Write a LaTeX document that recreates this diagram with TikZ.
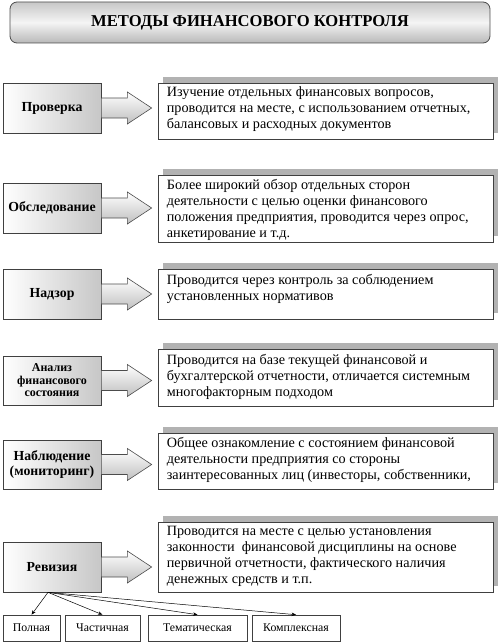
\documentclass[tikz,border=0pt]{standalone}
\usepackage{fontspec}
\setmainfont{Liberation Serif}
\usetikzlibrary{calc,shadows,arrows.meta}

\tikzset{
	heading/.style={draw=black!70, line width=0.8pt, rounded corners=7pt,
		top color=black!22, bottom color=black!28, middle color=black!4,
		minimum width=480pt, minimum height=41pt, inner sep=0pt,
		font=\fontsize{16.6}{18}\selectfont\bfseries},
	method/.style={draw=black!75, line width=0.7pt,
		left color=white, right color=black!22,
		minimum width=98pt, minimum height=50pt, inner sep=1pt, align=center,
		font=\fontsize{13.8}{15.5}\selectfont\bfseries},
	descr/.style={draw=black!75, line width=0.7pt, fill=white,
		minimum width=335pt, inner sep=0pt,
		drop shadow={shadow xshift=5pt, shadow yshift=6pt, fill=black!30, opacity=1}},
	descrtext/.style={anchor=north west, inner sep=0pt, align=left,
		font=\fontsize{14.2}{16}\selectfont},
	arrowfill/.style={draw=black!70, line width=0.6pt,
		top color=white, bottom color=black!25},
	kind/.style={draw=black!75, line width=0.6pt, minimum height=26pt,
		inner sep=1pt, font=\fontsize{11.8}{13}\selectfont},
	branch/.style={line width=0.5pt, -{Stealth[length=4.5pt,width=3.5pt]}}
}

% block arrow from a method box to its description
\newcommand{\blockarrow}[2]{%
	\path[arrowfill] ($(#1.east)+(0,-10)$) -- ++(26,0) -- ++(0,-6)
		-- ($(#1.east -| #2.west)+(-6,0)$) -- ($(#1.east)+(26,16)$)
		-- ++(0,-6) -- ($(#1.east)+(0,10)$) -- cycle;}

\begin{document}
\begin{tikzpicture}[x=1pt,y=-1pt]
	\useasboundingbox (0,0) rectangle (499,642);
	%
	\node[heading] (title) at (250,22.5) {МЕТОДЫ ФИНАНСОВОГО КОНТРОЛЯ};
	%
	\node[method] (l1) at (52,108) {Проверка};
	\node[method] (l2) at (52,208) {Обследование};
	\node[method] (l3) at (52,294) {Надзор};
	\node[method, minimum height=49pt, font=\fontsize{12}{12.5}\selectfont\bfseries] (l4) at (52,380.5) {Анализ\\финансового\\состояния};
	\node[method, minimum height=49pt] (l5) at (52,464.5) {Наблюдение\\(мониторинг)};
	\node[method] (l6) at (52,567) {Ревизия};
	%
	\node[descr, minimum height=56pt] (r1) at (325.5,111) {};
	\node[descr, minimum height=67pt] (r2) at (325.5,208.5) {};
	\node[descr, minimum height=50pt] (r3) at (325.5,294) {};
	\node[descr, minimum height=57pt] (r4) at (325.5,377.5) {};
	\node[descr, minimum height=56pt] (r5) at (325.5,461) {};
	\node[descr, minimum height=70pt] (r6) at (325.5,557) {};
	%
	\node[descrtext] (r1t) at ($(r1.north west)+(9,4)$) {Изучение отдельных финансовых вопросов,\\проводится на месте, с использованием отчетных,\\балансовых и расходных документов};
	\node[descrtext] (r2t) at ($(r2.north west)+(9,4)$) {Более широкий обзор отдельных сторон\\деятельности с целью оценки финансового\\положения предприятия, проводится через опрос,\\анкетирование и т.д.};
	\node[descrtext] (r3t) at ($(r3.north west)+(9,5)$) {Проводится через контроль за соблюдением\\установленных нормативов};
	\node[descrtext] (r4t) at ($(r4.north west)+(9,5)$) {Проводится на базе текущей финансовой и\\бухгалтерской отчетности, отличается системным\\многофакторным подходом};
	\node[descrtext] (r5t) at ($(r5.north west)+(9,4)$) {Общее ознакомление с состоянием финансовой\\деятельности предприятия со стороны\\заинтересованных лиц (инвесторы, собственники,};
	\node[descrtext] (r6t) at ($(r6.north west)+(9,4)$) {Проводится на месте с целью установления\\законности~ финансовой дисциплины на основе\\первичной отчетности, фактического наличия\\денежных средств и т.п.};
	%
	\foreach \i in {1,...,6}
		\blockarrow{l\i}{r\i};
	%
	\node[kind, minimum width=57pt] (b1) at (31.5,628) {Полная};
	\node[kind, minimum width=75pt] (b2) at (102.5,628) {Частичная};
	\node[kind, minimum width=99pt] (b3) at (197.5,628) {Тематическая};
	\node[kind, minimum width=88pt] (b4) at (296,628) {Комплексная};
	%
	\coordinate (rvs) at ($(l6.south)+(-4,0)$);
	\foreach \b in {b1,b2,b3,b4}
		\draw[branch] (rvs) -- (\b.north);
\end{tikzpicture}
\end{document}
